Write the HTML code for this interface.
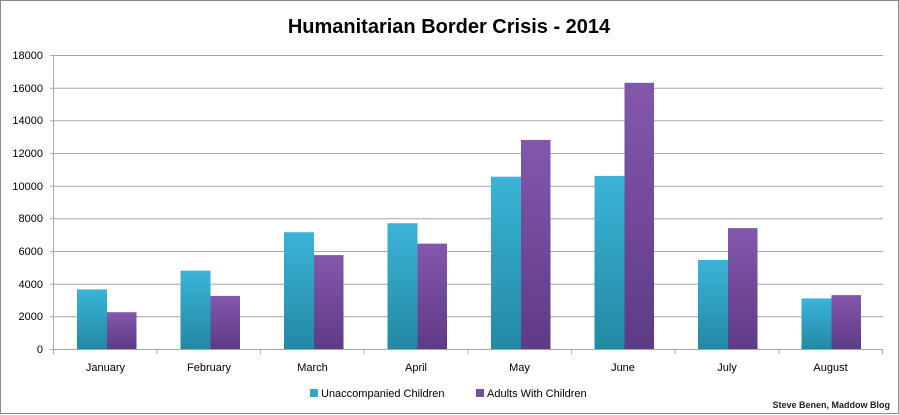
<!DOCTYPE html>
<html><head><style>
body{margin:0;background:#fff}
svg{display:block;font-family:"Liberation Sans",sans-serif}
</style></head><body>
<svg width="899" height="415" viewBox="0 0 899 415">
<defs>
<linearGradient id="b" x1="0" y1="0" x2="0" y2="1"><stop offset="0" stop-color="#3bb4d8"/><stop offset="1" stop-color="#2289a3"/></linearGradient>
<linearGradient id="p" x1="0" y1="0" x2="0" y2="1"><stop offset="0" stop-color="#8358ac"/><stop offset="1" stop-color="#5e3b86"/></linearGradient>
</defs>
<rect x="0.5" y="0.5" width="898" height="413" fill="#fff" stroke="#8a8a8a"/>
<text x="449" y="33" text-anchor="middle" font-size="20" font-weight="bold" fill="#000">Humanitarian Border Crisis - 2014</text>
<g stroke="#a6a6a6" stroke-width="1">
<line x1="50" y1="55.5" x2="883" y2="55.5"/>
<line x1="50" y1="88.2" x2="883" y2="88.2"/>
<line x1="50" y1="120.8" x2="883" y2="120.8"/>
<line x1="50" y1="153.5" x2="883" y2="153.5"/>
<line x1="50" y1="186.2" x2="883" y2="186.2"/>
<line x1="50" y1="218.8" x2="883" y2="218.8"/>
<line x1="50" y1="251.5" x2="883" y2="251.5"/>
<line x1="50" y1="284.2" x2="883" y2="284.2"/>
<line x1="50" y1="316.8" x2="883" y2="316.8"/>
<line x1="50" y1="349.5" x2="883" y2="349.5"/>
<line x1="53.5" y1="55" x2="53.5" y2="354"/>
<line x1="157" y1="349" x2="157" y2="354"/>
<line x1="260.5" y1="349" x2="260.5" y2="354"/>
<line x1="364" y1="349" x2="364" y2="354"/>
<line x1="468" y1="349" x2="468" y2="354"/>
<line x1="571.5" y1="349" x2="571.5" y2="354"/>
<line x1="675" y1="349" x2="675" y2="354"/>
<line x1="779" y1="349" x2="779" y2="354"/>
<line x1="882.5" y1="349" x2="882.5" y2="354"/>
</g>
<g font-size="11" fill="#000" text-anchor="end">
<text x="43" y="59">18000</text><text x="43" y="92">16000</text><text x="43" y="124">14000</text><text x="43" y="157">12000</text><text x="43" y="190">10000</text><text x="43" y="222">8000</text><text x="43" y="255">6000</text><text x="43" y="288">4000</text><text x="43" y="320">2000</text><text x="43" y="353">0</text>
</g>
<g>
<rect x="77" y="289.4" width="30" height="59.6" fill="url(#b)"/><rect x="107" y="312.2" width="29.5" height="36.8" fill="url(#p)"/>
<rect x="180.5" y="270.6" width="30" height="78.4" fill="url(#b)"/><rect x="210.5" y="295.9" width="29.5" height="53.1" fill="url(#p)"/>
<rect x="284" y="232.2" width="30" height="116.8" fill="url(#b)"/><rect x="314" y="255.1" width="29.5" height="93.9" fill="url(#p)"/>
<rect x="387.5" y="223.2" width="30" height="125.8" fill="url(#b)"/><rect x="417.5" y="243.6" width="29.5" height="105.4" fill="url(#p)"/>
<rect x="491" y="176.7" width="30" height="172.3" fill="url(#b)"/><rect x="521" y="139.9" width="29.5" height="209.1" fill="url(#p)"/>
<rect x="594.5" y="175.9" width="30" height="173.1" fill="url(#b)"/><rect x="624.5" y="82.8" width="29.5" height="266.2" fill="url(#p)"/>
<rect x="698" y="260" width="30" height="89" fill="url(#b)"/><rect x="728" y="228.1" width="29.5" height="120.9" fill="url(#p)"/>
<rect x="801.5" y="298.4" width="30" height="50.6" fill="url(#b)"/><rect x="831.5" y="295.1" width="29.5" height="53.9" fill="url(#p)"/>
</g>
<g font-size="11" fill="#000" text-anchor="middle">
<text x="105.5" y="371">January</text><text x="209" y="371">February</text><text x="312.5" y="371">March</text><text x="416" y="371">April</text><text x="519.5" y="371">May</text><text x="623" y="371">June</text><text x="727" y="371">July</text><text x="830.5" y="371">August</text>
</g>
<rect x="310" y="389" width="8" height="8" fill="#31a7c9"/>
<text x="321" y="397" font-size="11">Unaccompanied Children</text>
<rect x="476" y="389" width="8" height="8" fill="#7650a0"/>
<text x="487" y="397" font-size="11">Adults With Children</text>
<text x="890" y="408" text-anchor="end" font-size="9" font-weight="bold" fill="#222">Steve Benen, Maddow Blog</text>
</svg>
</body></html>
